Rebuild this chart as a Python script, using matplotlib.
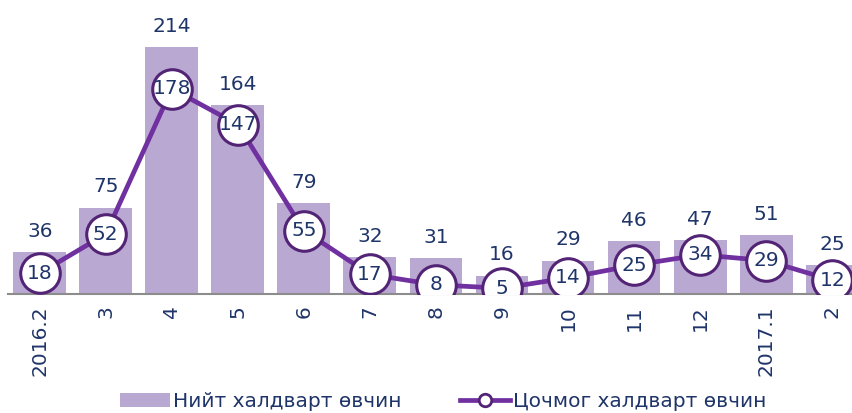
import matplotlib
matplotlib.use("Agg")
import matplotlib.pyplot as plt
import numpy as np

months = ["2016.2", "3", "4", "5", "6", "7", "8", "9", "10", "11", "12", "2017.1", "2"]
total_cases = [36, 75, 214, 164, 79, 32, 31, 16, 29, 46, 47, 51, 25]
acute_cases = [18, 52, 178, 147, 55, 17, 8, 5, 14, 25, 34, 29, 12]

BAR_COLOR = "#b9a9d2"
LINE_COLOR = "#7030a0"
TEXT_COLOR = "#1f3469"

plt.rcParams['font.family'] = ['DejaVu Sans']

fig = plt.figure(figsize=(8.52, 4.13), dpi=100)
ax = fig.add_axes([8 / 852, 119 / 413, 844 / 852, 294 / 413])

x = np.arange(len(months))
bars = ax.bar(x, total_cases, width=0.8, color=BAR_COLOR, zorder=1,
              label="Нийт халдварт өвчин")
for xi, v in zip(x, total_cases):
    ax.annotate(str(v), (xi, v), xytext=(0, 8), textcoords="offset points",
                ha="center", va="bottom", fontsize=14.5, color=TEXT_COLOR)

line, = ax.plot(x, acute_cases, color=LINE_COLOR, lw=3.4, marker="o",
                markersize=28.5, markerfacecolor="white", markeredgecolor="#532476",
                markeredgewidth=2.2, zorder=3, label="Цочмог халдварт өвчин")
for xi, v in zip(x, acute_cases):
    ax.text(xi, v, str(v), ha="center", va="center", fontsize=14.5,
            color=TEXT_COLOR, zorder=4)

ax.set_xlim(-0.48, 12.3)
ax.set_ylim(0, 255)
ax.set_xticks(x)
ax.set_xticklabels(months, rotation=90, fontsize=14.5, color=TEXT_COLOR)
ax.tick_params(axis="x", length=0, pad=8)
ax.set_yticks([])
for side in ["top", "right", "left"]:
    ax.spines[side].set_visible(False)
ax.spines["bottom"].set_color("#8c8c8c")
ax.spines["bottom"].set_linewidth(1.5)
ax.patch.set_alpha(0)

leg_line = plt.Line2D([], [], color=LINE_COLOR, lw=3.4, marker="o", markersize=9,
                      markerfacecolor="white", markeredgecolor="#532476", markeredgewidth=2)
fig.legend([bars, leg_line], ["Нийт халдварт өвчин", "Цочмог халдварт өвчин"],
           loc="center", bbox_to_anchor=(0.52, 0.027), ncol=2, frameon=False,
           fontsize=14.5, labelcolor=TEXT_COLOR, handlelength=2.5, handletextpad=0.15,
           columnspacing=2.9, borderaxespad=0)

fig.savefig("out.png", dpi=100)
